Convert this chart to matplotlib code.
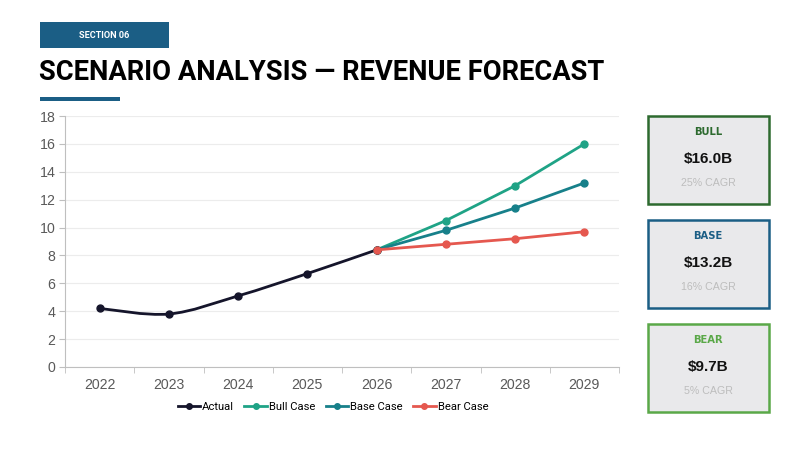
import matplotlib.pyplot as plt
from matplotlib.patches import Rectangle, PathPatch
from matplotlib.path import Path
from matplotlib.lines import Line2D

years = ["2022", "2023", "2024", "2025", "2026", "2027", "2028", "2029"]
actual = [4.2, 3.8, 5.1, 6.7, 8.4]
bull = [8.4, 10.5, 13.0, 16.0]
base = [8.4, 9.8, 11.4, 13.2]
bear = [8.4, 8.8, 9.2, 9.7]

card_labels = ["BULL", "BASE", "BEAR"]
card_values = ["$16.0B", "$13.2B", "$9.7B"]
card_cagr = ["25% CAGR", "16% CAGR", "5% CAGR"]

NAVY = "#1b5e85"
C_ACTUAL = "#15152b"
C_BULL = "#1fa386"
C_BASE = "#17808a"
C_BEAR = "#e5584f"
card_borders = ["#2d6a2f", NAVY, "#5aa848"]
card_text = ["#2d6a2f", NAVY, "#5aa848"]

W, H = 800, 450


def fx(x):
    return x / W


def fy(y):
    return 1 - y / H


def smooth_path(xs, ys):
    # catmull-rom style bezier through the points (like excel smoothed line)
    pts = list(zip(xs, ys))
    n = len(pts)
    verts = [pts[0]]
    codes = [Path.MOVETO]
    for i in range(n - 1):
        p0 = pts[i - 1] if i > 0 else pts[i]
        p1 = pts[i]
        p2 = pts[i + 1]
        p3 = pts[i + 2] if i + 2 < n else pts[i + 1]
        c1 = (p1[0] + (p2[0] - p0[0]) / 6, p1[1] + (p2[1] - p0[1]) / 6)
        c2 = (p2[0] - (p3[0] - p1[0]) / 6, p2[1] - (p3[1] - p1[1]) / 6)
        verts += [c1, c2, p2]
        codes += [Path.CURVE4] * 3
    return Path(verts, codes)


fig = plt.figure(figsize=(8, 4.5), dpi=100)
fig.patch.set_facecolor("white")

# header
fig.patches.append(Rectangle((fx(40), fy(48)), fx(129), 26 / H, transform=fig.transFigure,
                             facecolor=NAVY, edgecolor="none"))
fig.text(fx(104), fy(35), "SECTION 06", color="white", fontsize=6.6, fontweight="bold",
         family="Roboto", ha="center", va="center")
fig.text(fx(39), fy(72), "SCENARIO ANALYSIS \u2014 REVENUE FORECAST", color="black",
         fontsize=19.7, fontweight="bold", family="Roboto", ha="left", va="center")
fig.patches.append(Rectangle((fx(40), fy(101)), fx(80), 4 / H, transform=fig.transFigure,
                             facecolor=NAVY, edgecolor="none"))

# chart
ax = fig.add_axes([fx(65), fy(367), fx(619 - 65), (367 - 116) / H])
x_act = list(range(len(actual)))
x_fc = list(range(len(actual) - 1, len(years)))

ax.add_patch(PathPatch(smooth_path(x_act, actual), facecolor="none", edgecolor=C_ACTUAL,
                       lw=2, zorder=3))
ax.plot(x_act, actual, ls="none", marker="o", ms=5, color=C_ACTUAL, zorder=4)
ax.plot(x_fc, bull, color=C_BULL, lw=2, marker="o", ms=5, zorder=3)
ax.plot(x_fc, base, color=C_BASE, lw=2, marker="o", ms=5, zorder=3)
ax.plot(x_fc, bear, color=C_BEAR, lw=2, marker="o", ms=5, zorder=5)

ax.set_xlim(-0.5, len(years) - 0.5)
ax.set_ylim(0, 18)
ax.set_yticks(range(0, 19, 2))
ax.set_xticks(range(len(years)))
ax.set_xticklabels(years)
ax.set_xticks([i - 0.5 for i in range(len(years) + 1)], minor=True)
ax.tick_params(axis="x", which="major", length=0, pad=8, labelsize=10.2, labelcolor="#595959")
ax.tick_params(axis="x", which="minor", length=4, color="#bfbfbf", direction="out")
ax.tick_params(axis="y", length=4, color="#bfbfbf", labelsize=10.2, labelcolor="#595959", pad=3)
for lab in ax.get_xticklabels() + ax.get_yticklabels():
    lab.set_family("Liberation Sans")
ax.grid(axis="y", color="#ececec", lw=0.8)
ax.set_axisbelow(True)
for s in ["top", "right"]:
    ax.spines[s].set_visible(False)
for s in ["left", "bottom"]:
    ax.spines[s].set_color("#bfbfbf")

handles = [Line2D([], [], color=c, lw=2, marker="o", ms=4) for c in [C_ACTUAL, C_BULL, C_BASE, C_BEAR]]
fig.legend(handles, ["Actual", "Bull Case", "Base Case", "Bear Case"], loc="center",
           bbox_to_anchor=(fx(333), fy(407)), ncol=4, frameon=False,
           handlelength=2.0, handletextpad=0.2, columnspacing=0.9,
           prop={"family": "Roboto", "size": 8.1})

# scenario cards
for i in range(len(card_labels)):
    top = 116 + i * 104
    fig.patches.append(Rectangle((fx(648), fy(top + 88)), fx(121), 88 / H,
                                 transform=fig.transFigure, facecolor="#e9e9eb",
                                 edgecolor=card_borders[i], lw=1.8))
    fig.text(fx(708), fy(top + 16), card_labels[i], color=card_text[i], fontsize=7.2,
             fontweight="bold", family="DejaVu Sans", ha="center", va="center")
    fig.text(fx(708), fy(top + 43), card_values[i], color="#111111", fontsize=11,
             fontweight="bold", family="Liberation Sans", ha="center", va="center")
    fig.text(fx(708), fy(top + 67), card_cagr[i], color="#bdbdbd", fontsize=7.7,
             family="Liberation Sans", ha="center", va="center")

fig.savefig("out.png", dpi=100, facecolor="white")
